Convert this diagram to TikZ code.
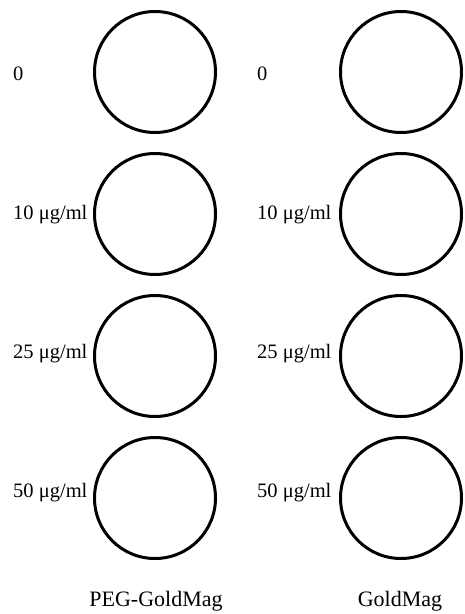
\documentclass[tikz,border=0pt]{standalone}
\usepackage{fontspec}
\setmainfont{Liberation Serif}
\usepackage{tikz}
\usetikzlibrary{positioning}

\begin{document}
\begin{tikzpicture}[x=1pt, y=-1pt, font=\fontsize{20.5}{24}\selectfont,
  well/.style={draw, circle, line width=3pt, minimum size=121pt, inner sep=0pt},
  dose/.style={anchor=base west, inner sep=0pt},
  sample/.style={anchor=base, inner sep=0pt, font=\fontsize{22}{26}\selectfont}]
\useasboundingbox (0,0) rectangle (464,614);
% PEG-GoldMag column
\node[well] (peg0) at (155,72) {};
\node[well, below=18pt of peg0] (peg10) {};
\node[well, below=18pt of peg10] (peg25) {};
\node[well, below=18pt of peg25] (peg50) {};
\node[dose] (pegl0) at (13,80) {0};
\node[dose] (pegl10) at (13,219) {10 μg/ml};
\node[dose] (pegl25) at (13,358) {25 μg/ml};
\node[dose] (pegl50) at (13,497) {50 μg/ml};
% GoldMag column
\node[well] (gm0) at (401,72) {};
\node[well, below=18pt of gm0] (gm10) {};
\node[well, below=18pt of gm10] (gm25) {};
\node[well, below=18pt of gm25] (gm50) {};
\node[dose] (gml0) at (257,80) {0};
\node[dose] (gml10) at (257,219) {10 μg/ml};
\node[dose] (gml25) at (257,358) {25 μg/ml};
\node[dose] (gml50) at (257,497) {50 μg/ml};
% sample names
\node[sample] (pegname) at (156,606) {PEG-GoldMag};
\node[sample] (gmname) at (400,606) {GoldMag};
\end{tikzpicture}
\end{document}
